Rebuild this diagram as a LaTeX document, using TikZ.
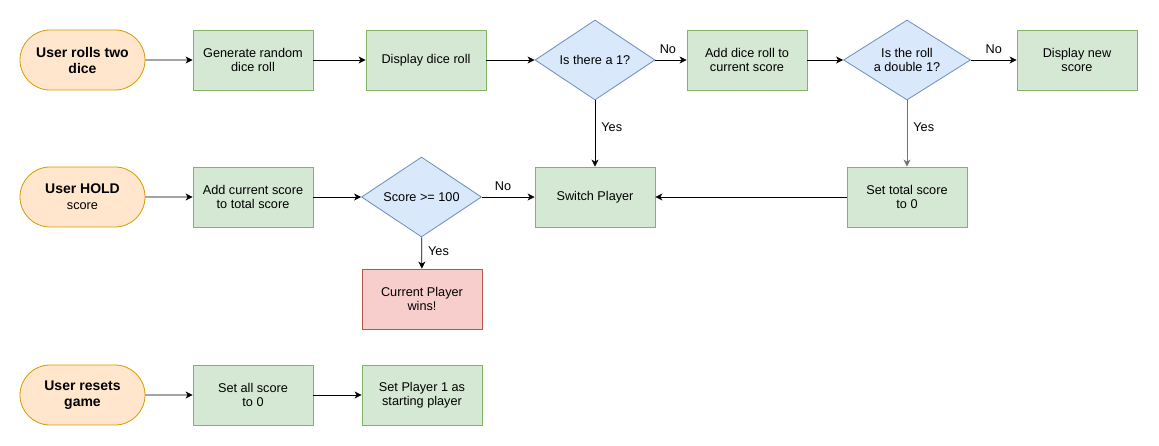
\documentclass[tikz,border=0pt]{standalone}
\usepackage{fontspec}
\setmainfont{Liberation Sans}
\usetikzlibrary{shapes.geometric,shapes.misc,arrows.meta}
\definecolor{termfill}{HTML}{FFE6CC}
\definecolor{termdraw}{HTML}{D79B00}
\definecolor{procfill}{HTML}{D5E8D4}
\definecolor{procdraw}{HTML}{82B366}
\definecolor{decfill}{HTML}{DAE8FC}
\definecolor{decdraw}{HTML}{6C8EBF}
\definecolor{endfill}{HTML}{F8CECC}
\definecolor{enddraw}{HTML}{B85450}
\tikzset{
  x=1pt,y=-1pt,
  base/.style={font=\fontsize{12.7}{14.5}\selectfont, align=center, line width=0.8pt, inner sep=0pt},
  term/.style={base, rounded rectangle, fill=termfill, draw=termdraw, minimum width=125pt, minimum height=60pt, font=\fontsize{14}{16}\selectfont\bfseries},
  proc/.style={base, rectangle, fill=procfill, draw=procdraw, minimum width=120pt, minimum height=60pt},
  win/.style={base, rectangle, fill=endfill, draw=enddraw, minimum width=120pt, minimum height=60pt},
  dec/.style={base, diamond, fill=decfill, draw=decdraw, minimum width=120pt, minimum height=80pt, aspect=1.5},
  arr/.style={-{Stealth[length=7pt,width=7pt,inset=2pt]}, line width=0.8pt},
  lbl/.style={font=\fontsize{12.7}{14.5}\selectfont, inner sep=1pt},
}
\begin{document}
\begin{tikzpicture}
\useasboundingbox (0,0) rectangle (1159,446);
% row 1
\node[term] (roll) at (82.5,60) {User rolls two\\dice};
\node[proc] (gen) at (253,60) {Generate random\\dice roll};
\node[proc] (disp) at (426,60) {Display dice roll};
\node[dec, minimum width=120pt] (is1) at (595,60) {Is there a 1?};
\node[proc] (add) at (747,60) {Add dice roll to\\current score};
\node[dec, minimum width=127pt] (dbl) at (907,60) {Is the roll\\a double 1?};
\node[proc] (new) at (1077,60) {Display new\\score};
% row 2
\node[term] (hold) at (82.5,197) {User HOLD\\{\mdseries\fontsize{12.7}{14.5}\selectfont score}};
\node[proc] (addt) at (253,197) {Add current score\\to total score};
\node[dec] (s100) at (421.5,197) {Score >= 100};
\node[proc] (sw) at (595,197) {Switch Player};
\node[proc] (zero) at (907,197) {Set total score\\to 0};
\node[win] (wins) at (422,299) {Current Player\\wins!};
% row 3
\node[term] (reset) at (82.5,395) {User resets\\game};
\node[proc] (all0) at (253,395) {Set all score\\to 0};
\node[proc] (p1) at (422,395) {Set Player 1 as\\starting player};
% connectors
\draw[arr] (roll) -- (gen);
\draw[arr] (gen) -- (disp);
\draw[arr] (disp) -- (is1);
\draw[arr] (is1) -- node[lbl, pos=0.4, above=5pt] {No} (add);
\draw[arr] (add) -- (dbl);
\draw[arr] (dbl) -- node[lbl, pos=0.5, above=5pt] {No} (new);
\draw[arr] (is1) -- node[lbl, pos=0.4, right=5pt] {Yes} (sw);
\draw[arr, draw=gray!90!black] (dbl) -- node[lbl, pos=0.4, right=5pt] {Yes} (zero);
\draw[arr] (zero) -- (sw);
\draw[arr] (hold) -- (addt);
\draw[arr] (addt) -- (s100);
\draw[arr] (s100) -- node[lbl, pos=0.4, above=5pt] {No} (sw);
\draw[arr] (s100) -- node[lbl, pos=0.45, right=5pt] {Yes} (wins);
\draw[arr] (reset) -- (all0);
\draw[arr] (all0) -- (p1);
\end{tikzpicture}
\end{document}
